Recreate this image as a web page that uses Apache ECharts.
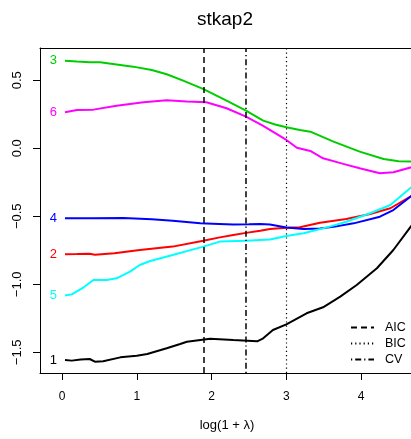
<!DOCTYPE html>
<html><head><meta charset="utf-8">
<script src="https://cdn.jsdelivr.net/npm/echarts@6/dist/echarts.min.js"></script>
<style>html,body{margin:0;padding:0;background:#fff}#c{width:411px;height:439px}</style>
</head><body><div id="c"></div>
<script>
// ---- data ----
const titleText = 'stkap2';
const xLabel = 'log(1 + λ)';
const xTicks = [0, 1, 2, 3, 4];
const yTicks = [-1.5, -1.0, -0.5, 0.0, 0.5];

const xs1 = [0.04,0.13,0.25,0.37,0.44,0.55,0.78,1.0,1.14,1.4,1.58,1.67,1.98,2.29,2.61,2.69,2.82,3.0,3.27,3.49,3.72,3.94,4.21,4.43,4.67,4.9];
const ys1 = [-1.556,-1.561,-1.553,-1.549,-1.569,-1.566,-1.537,-1.525,-1.512,-1.47,-1.439,-1.422,-1.40,-1.41,-1.419,-1.397,-1.336,-1.294,-1.213,-1.169,-1.091,-1.005,-0.882,-0.748,-0.571,-0.40];

const xs2 = [0.04,0.2,0.37,0.44,0.7,1.04,1.48,1.89,2.11,2.29,2.46,2.65,2.78,3.0,3.18,3.45,3.8,4.12,4.39,4.67,4.9];
const ys2 = [-0.779,-0.778,-0.776,-0.783,-0.772,-0.748,-0.723,-0.68,-0.655,-0.638,-0.622,-0.606,-0.593,-0.584,-0.581,-0.547,-0.52,-0.483,-0.441,-0.351,-0.27];

const xs3 = [0.04,0.2,0.37,0.51,0.95,1.2,1.4,1.62,1.885,2.2,2.46,2.69,2.85,3.0,3.18,3.32,3.63,3.98,4.3,4.5,4.67,4.9];
const ys3 = [0.644,0.638,0.632,0.632,0.60,0.575,0.544,0.497,0.436,0.35,0.277,0.203,0.175,0.154,0.135,0.122,0.049,-0.025,-0.079,-0.095,-0.098,-0.1];

const xs4 = [0.04,0.4,0.82,1.2,1.48,1.85,2.1,2.29,2.5,2.65,2.78,3.0,3.23,3.45,3.65,3.9,4.25,4.43,4.67,4.9];
const ys4 = [-0.515,-0.515,-0.513,-0.522,-0.532,-0.551,-0.556,-0.56,-0.559,-0.557,-0.561,-0.582,-0.594,-0.59,-0.576,-0.552,-0.503,-0.454,-0.351,-0.26];

const xs5 = [0.04,0.13,0.29,0.42,0.6,0.73,0.91,1.04,1.18,1.48,1.89,2.11,2.46,2.78,3.0,3.23,3.58,3.8,4.12,4.39,4.67,4.9];
const ys5 = [-1.083,-1.074,-1.022,-0.968,-0.968,-0.956,-0.907,-0.858,-0.829,-0.785,-0.723,-0.686,-0.679,-0.671,-0.645,-0.625,-0.576,-0.54,-0.478,-0.417,-0.287,-0.18];

const xs6 = [0.04,0.2,0.42,0.73,1.09,1.4,1.67,1.93,2.2,2.46,2.69,3.0,3.14,3.32,3.49,3.76,3.98,4.25,4.43,4.67,4.9];
const ys6 = [0.265,0.282,0.284,0.313,0.338,0.353,0.343,0.338,0.294,0.232,0.164,0.061,0.004,-0.02,-0.074,-0.115,-0.147,-0.184,-0.176,-0.14,-0.1];

const pathNames = ['1','2','3','4','5','6'];
const pathColors = ['#000000','#FF0000','#00CD00','#0000FF','#00FFFF','#FF00FF'];
const pathXs = [xs1, xs2, xs3, xs4, xs5, xs6];
const pathYs = [ys1, ys2, ys3, ys4, ys5, ys6];

const criteriaNames = ['AIC','BIC','CV'];
const criteriaX = [1.885, 3.0, 2.46];

// ---- chart ----
const FONT = 'Liberation Sans, Arial, Helvetica, sans-serif';
const critStyles = {
  AIC: {type:[6,4], width:1.5},
  BIC: {type:[1.2,3], width:1.2},
  CV:  {type:[1.2,3,6,3], width:1.5}
};
const fmt = v => (v < 0 ? '\u2212' : '') + Math.abs(v).toFixed(1);

const series = pathNames.map((nm, k) => ({
  name: 'path' + nm,
  type: 'line',
  data: pathXs[k].map((x, i) => {
    const item = {value: [x, pathYs[k][i]]};
    if (i === 0) item.label = {show: true, position: 'left', distance: 8, formatter: nm,
      color: pathColors[k], fontSize: 13, fontFamily: FONT};
    return item;
  }),
  showSymbol: true, symbol: 'circle', symbolSize: 0,
  lineStyle: {color: pathColors[k], width: 2},
  itemStyle: {color: pathColors[k]},
  label: {show: false},
  emphasis: {disabled: true},
  silent: true, z: 3
}));

criteriaNames.forEach((nm, k) => {
  series.push({
    name: nm, type: 'line', data: [], symbol: 'none',
    lineStyle: {color: '#000', width: critStyles[nm].width, type: critStyles[nm].type},
    itemStyle: {color: '#000'},
    markLine: {
      silent: true, symbol: ['none','none'], label: {show: false},
      lineStyle: {color: '#000', width: critStyles[nm].width, type: critStyles[nm].type},
      emphasis: {disabled: true},
      data: [{xAxis: criteriaX[k]}]
    },
    z: 2
  });
});

const chart = echarts.init(document.getElementById('c'), null, {renderer: 'canvas'});
chart.setOption({
  animation: false,
  backgroundColor: '#fff',
  grid: {left: 40, top: 48, right: 0, height: 325, show: false},
  xAxis: [{
    type: 'value', min: -0.294, max: 4.666,
    axisLine: {show: true, onZero: false, lineStyle: {color: '#000', width: 1}},
    axisTick: {show: true, length: 7, customValues: xTicks, lineStyle: {color: '#000'}},
    axisLabel: {customValues: xTicks, margin: 18, fontSize: 12, color: '#000', fontFamily: FONT, formatter: v => String(v)},
    splitLine: {show: false}
  }, {
    type: 'value', position: 'top', min: -0.294, max: 4.666,
    axisLine: {show: true, onZero: false, lineStyle: {color: '#000', width: 1}},
    axisTick: {show: false}, axisLabel: {show: false}, splitLine: {show: false}
  }],
  yAxis: {
    type: 'value', min: -1.652, max: 0.737,
    axisLine: {show: true, onZero: false, lineStyle: {color: '#000', width: 1}},
    axisTick: {show: true, length: 7, customValues: yTicks, lineStyle: {color: '#000'}},
    axisLabel: {customValues: yTicks, rotate: 90, margin: 16, fontSize: 13, color: '#000', fontFamily: FONT, formatter: fmt},
    splitLine: {show: false}
  },
  legend: {
    orient: 'vertical', left: 350, top: 321, padding: 0,
    itemWidth: 23, itemHeight: 10, itemGap: 3,
    data: criteriaNames,
    itemStyle: {opacity: 0},
    textStyle: {fontSize: 12.5, color: '#000', fontFamily: FONT, padding: [0,0,0,6]},
    selectedMode: false
  },
  graphic: [
    {type: 'text', x: 225, y: 20, silent: true,
     style: {text: titleText, fill: '#000', font: '19px ' + FONT, textAlign: 'center', textVerticalAlign: 'middle'}},
    {type: 'text', x: 227, y: 425, silent: true,
     style: {text: xLabel, fill: '#000', font: '13px ' + FONT, textAlign: 'center', textVerticalAlign: 'middle'}}
  ],
  series: series
});
</script>
</body></html>
